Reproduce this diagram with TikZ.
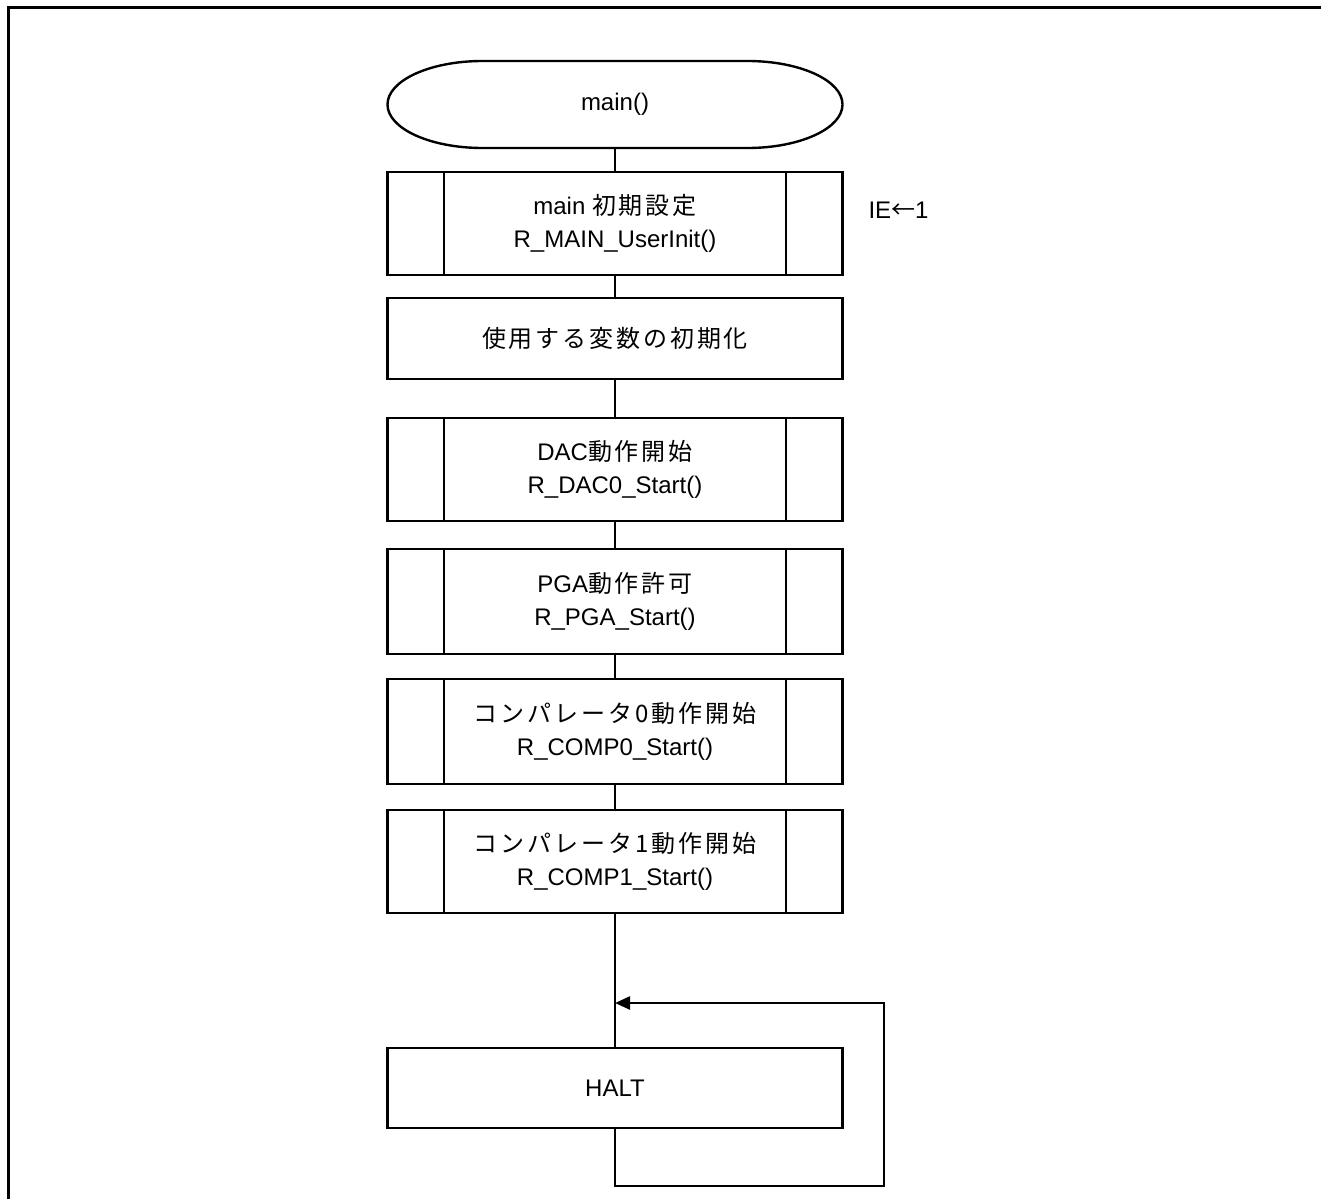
\documentclass[tikz,border=0pt]{standalone}
\usepackage{fontspec}
\setmainfont{Liberation Sans}
\newfontfamily\jp[LetterSpace=12]{Noto Sans CJK JP}
\newfontfamily\jparrow{Noto Sans CJK JP}
\usetikzlibrary{arrows.meta,positioning}

\begin{document}
\begin{tikzpicture}[
  x=1pt, y=1pt,
  line width=2.4pt,
  font=\fontsize{24}{33}\selectfont,
  proc/.style={draw, align=center, minimum width=455pt, minimum height=81pt, inner sep=0pt},
  subproc/.style={proc, minimum height=103pt,
    path picture={
      \draw[line width=2pt] ([xshift=56.5pt]path picture bounding box.north west) -- ([xshift=56.5pt]path picture bounding box.south west);
      \draw[line width=2pt] ([xshift=-56.5pt]path picture bounding box.north east) -- ([xshift=-56.5pt]path picture bounding box.south east);
    }},
  term/.style={align=center, minimum width=455pt, minimum height=87pt, inner sep=0pt, outer sep=0pt}
]
\useasboundingbox (0,0) rectangle (1321,-1199);
% sheet frame
\draw[line width=3pt] (1321,-7.5) -- (8.5,-7.5) -- (8.5,-1199);

% flow
\node[term] (start) at (615,-104.5) {main()};
\draw ([xshift=95pt]start.north west) -- ([xshift=-95pt]start.north east)
  arc[start angle=90, end angle=-90, x radius=95pt, y radius=43.5pt]
  -- ([xshift=95pt]start.south west)
  arc[start angle=270, end angle=90, x radius=95pt, y radius=43.5pt] -- cycle;
\node[subproc, below=22.8pt of start] (init) {main {\jp 初期設定}\\R\_MAIN\_UserInit()};
\node[anchor=west] (ienote) at (864,-210) {IE{\jparrow ←}1};
\node[proc, below=20.6pt of init] (vars) {{\jp 使用する変数の初期化}};
\node[subproc, below=36.6pt of vars] (dac) {DAC{\jp 動作開始}\\R\_DAC0\_Start()};
\node[subproc, below=25.6pt of dac, minimum height=105pt] (pga) {PGA{\jp 動作許可}\\R\_PGA\_Start()};
\node[subproc, below=22.6pt of pga, minimum height=105pt] (comp0) {{\jp コンパレータ0動作開始}\\R\_COMP0\_Start()};
\node[subproc, below=23.6pt of comp0] (comp1) {{\jp コンパレータ1動作開始}\\R\_COMP1\_Start()};
\node[proc, below=132.6pt of comp1, minimum height=80pt] (halt) {HALT};

\coordinate (join) at (615,-1003);
\coordinate (loopr) at (884,-1003);

\draw (start) -- (init);
\draw (init) -- (vars);
\draw (vars) -- (dac);
\draw (dac) -- (pga);
\draw (pga) -- (comp0);
\draw (comp0) -- (comp1);
\draw (comp1) -- (halt);
\draw[-{Triangle[length=15pt, width=13pt]}] (halt.south) -- ++(0,-57) -| (loopr) -- (join);
\end{tikzpicture}
\end{document}
